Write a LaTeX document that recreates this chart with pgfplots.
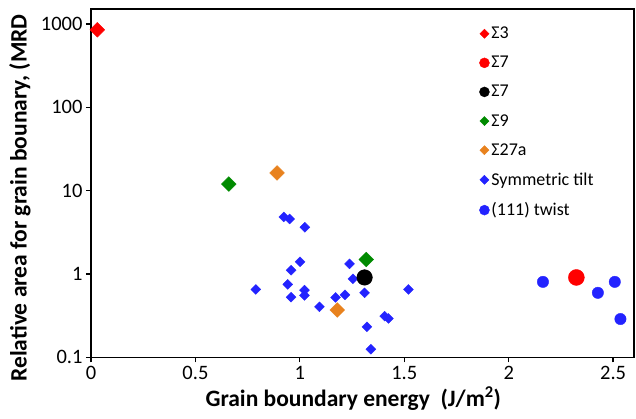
\documentclass[border=0pt]{standalone}
\usepackage{pgfplots}
\pgfplotsset{compat=1.18}
\usepackage{fontspec}
\setmainfont{Carlito}
\definecolor{cred}{RGB}{255,0,0}
\definecolor{cblue}{RGB}{35,35,255}
\definecolor{cgreen}{RGB}{0,138,0}
\definecolor{corange}{RGB}{232,130,30}
\begin{document}
\begin{tikzpicture}
\begin{axis}[
  at={(0,0)}, anchor=south west,
  scale only axis, width=543pt, height=348pt,
  xmin=0, xmax=2.6, ymode=log, ymin=0.1, ymax=1500,
  axis line style={line width=1.6pt},
  tick style={line width=1.3pt, black},
  tick align=outside, major tick length=5pt,
  xtick pos=bottom, ytick pos=left,
  xtick={0,0.5,1,1.5,2,2.5}, xticklabels={0,0.5,1,1.5,2,2.5},
  ytick={0.1,1,10,100,1000}, yticklabels={0.1,1,10,100,1000},
  yminorticks=false,
  /pgf/number format/assume math mode=true,
  ticklabel style={font=\fontsize{20.5}{20.5}\selectfont},
  xlabel={Grain boundary energy\ \ (J/m\textsuperscript{2})},
  ylabel={Relative area for grain bounary, (MRD},
  xlabel style={font=\bfseries\fontsize{23.5}{23.5}\selectfont, at={(axis description cs:0.483,-0.141)}, anchor=base},
  ylabel style={font=\bfseries\fontsize{23.5}{23.5}\selectfont, at={(axis description cs:-0.131,0.458)}, anchor=center},
  legend style={draw=none, fill=none, at={(rel axis cs:0.715,0.955)}, anchor=north west,
    font=\fontsize{18}{18}\selectfont, row sep=12pt, inner sep=0pt},
  legend cell align=left,
  legend image code/.code={\path[#1] plot coordinates {(0.15cm,0cm)};},
]
% legend images
\addlegendimage{draw=none, mark=square*, mark size=3.2pt, mark options={rotate=45, fill=cred, draw=cred}}
\addlegendentry{Σ3}
\addlegendimage{draw=none, mark=*, mark size=5pt, mark options={fill=cred, draw=cred}}
\addlegendentry{Σ7}
\addlegendimage{draw=none, mark=*, mark size=5pt, mark options={fill=black, draw=black}}
\addlegendentry{Σ7}
\addlegendimage{draw=none, mark=square*, mark size=3.2pt, mark options={rotate=45, fill=cgreen, draw=cgreen}}
\addlegendentry{Σ9}
\addlegendimage{draw=none, mark=square*, mark size=3.2pt, mark options={rotate=45, fill=corange, draw=corange}}
\addlegendentry{Σ27a}
\addlegendimage{draw=none, mark=square*, mark size=3.2pt, mark options={rotate=45, fill=cblue, draw=cblue}}
\addlegendentry{Symmetric tilt}
\addlegendimage{draw=none, mark=*, mark size=5pt, mark options={fill=cblue, draw=cblue}}
\addlegendentry{(111) twist}
% Symmetric tilt
\addplot[forget plot, only marks, mark=square*, mark size=3.5pt, mark options={rotate=45, fill=cblue, draw=cblue}] coordinates {
(0.923,4.83) (0.951,4.57) (1.024,3.63) (1.001,1.40) (0.958,1.11)
(1.238,1.32) (1.254,0.874) (0.789,0.652) (0.942,0.749) (1.022,0.640)
(0.958,0.527) (1.022,0.553) (1.171,0.523) (1.216,0.562) (1.094,0.404)
(1.310,0.594) (1.520,0.652) (1.406,0.312) (1.424,0.293) (1.321,0.232)
(1.340,0.125)
};
% (111) twist
\addplot[forget plot, only marks, mark=*, mark size=5.7pt, mark options={fill=cblue, draw=cblue}] coordinates {
(2.164,0.804) (2.427,0.594) (2.508,0.804) (2.535,0.288)
};
% Sigma 3
\addplot[forget plot, only marks, mark=square*, mark size=5.2pt, mark options={rotate=45, fill=cred, draw=cred}] coordinates {
(0.03,850)
};
% Sigma 9
\addplot[forget plot, only marks, mark=square*, mark size=5.2pt, mark options={rotate=45, fill=cgreen, draw=cgreen}] coordinates {
(0.66,12.0) (1.318,1.49)
};
% Sigma 27a
\addplot[forget plot, only marks, mark=square*, mark size=5.2pt, mark options={rotate=45, fill=corange, draw=corange}] coordinates {
(0.891,16.3) (1.179,0.369)
};
% Sigma 7 black
\addplot[forget plot, only marks, mark=*, mark size=7.8pt, mark options={fill=black, draw=black}] coordinates {
(1.310,0.908)
};
% Sigma 7 red
\addplot[forget plot, only marks, mark=*, mark size=8pt, mark options={fill=cred, draw=cred}] coordinates {
(2.324,0.908)
};
\end{axis}
\pgfresetboundingbox
\path[use as bounding box] (-91pt,-60.7pt) rectangle (545pt,357.3pt);
\end{tikzpicture}
\end{document}
